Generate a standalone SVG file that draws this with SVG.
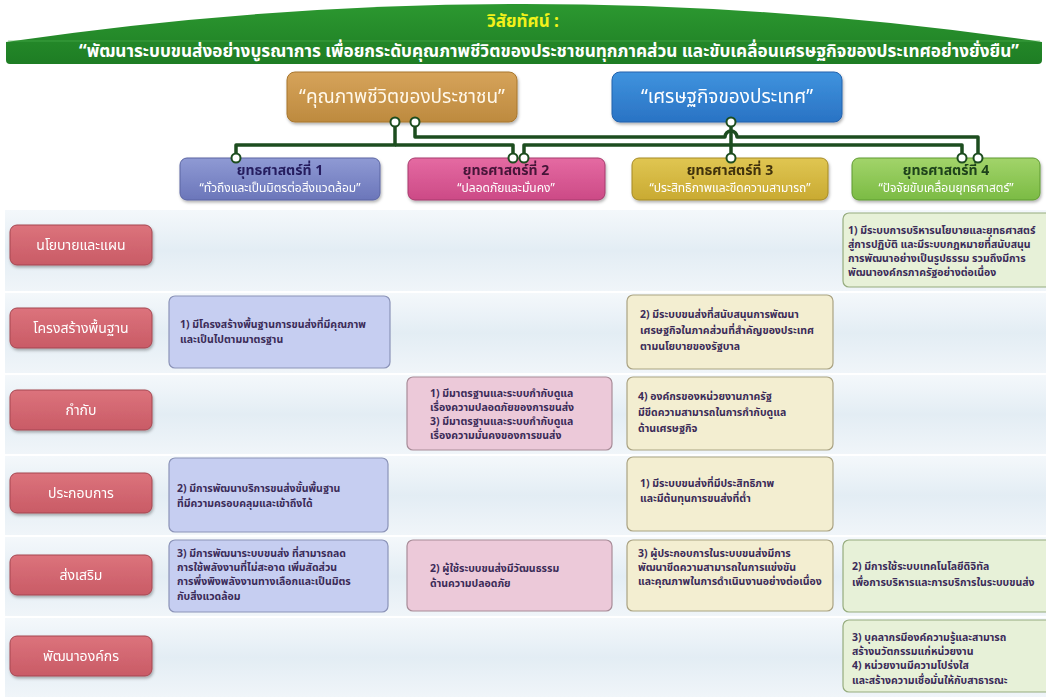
<svg xmlns="http://www.w3.org/2000/svg" width="1046" height="698" viewBox="0 0 1046 698">
<defs>
<linearGradient id="gHead" x1="0" y1="0" x2="0" y2="1"><stop offset="0" stop-color="#2c9830"/><stop offset="1" stop-color="#1e7d24"/></linearGradient>
<linearGradient id="gRow" x1="0" y1="0" x2="0" y2="1"><stop offset="0" stop-color="#f4f8fb"/><stop offset="0.5" stop-color="#e3edf4"/><stop offset="1" stop-color="#f0f5f9"/></linearGradient>
<linearGradient id="gGold" x1="0" y1="0" x2="0" y2="1"><stop offset="0" stop-color="#d6a35a"/><stop offset="1" stop-color="#bd8a3f"/></linearGradient>
<linearGradient id="gBlue" x1="0" y1="0" x2="0" y2="1"><stop offset="0" stop-color="#3f93de"/><stop offset="1" stop-color="#2a73c4"/></linearGradient>
<linearGradient id="gS1" x1="0" y1="0" x2="0" y2="1"><stop offset="0" stop-color="#8f9ad4"/><stop offset="1" stop-color="#6b76ba"/></linearGradient>
<linearGradient id="gS2" x1="0" y1="0" x2="0" y2="1"><stop offset="0" stop-color="#e56aa2"/><stop offset="1" stop-color="#cc4a86"/></linearGradient>
<linearGradient id="gS3" x1="0" y1="0" x2="0" y2="1"><stop offset="0" stop-color="#e0c652"/><stop offset="1" stop-color="#c9aa32"/></linearGradient>
<linearGradient id="gS4" x1="0" y1="0" x2="0" y2="1"><stop offset="0" stop-color="#a2d46a"/><stop offset="1" stop-color="#7bbb44"/></linearGradient>
<linearGradient id="gLab" x1="0" y1="0" x2="0" y2="1"><stop offset="0" stop-color="#dc737c"/><stop offset="1" stop-color="#c95b66"/></linearGradient>
<filter id="sh" x="-10%" y="-10%" width="120%" height="130%"><feDropShadow dx="1" dy="2" stdDeviation="1.5" flood-color="#000" flood-opacity="0.3"/></filter>
</defs>
<style>
text{font-family:"Noto Sans Thai","Noto Sans","Liberation Sans",sans-serif;}
.cell{stroke-width:1.2;}
.c1{fill:#c6cef1;stroke:#8b93b8;}
.c2{fill:#ecc9d9;stroke:#a88c98;}
.c3{fill:#f3eed1;stroke:#aaa382;}
.c4{fill:#e7f1d8;stroke:#96ac7e;}
.ct{font-size:10.5px;font-weight:bold;fill:#3b2b58;}
.lab{fill:url(#gLab);stroke:#a54650;stroke-width:1;}
.lt{font-size:14px;fill:#ffffff;text-anchor:middle;}
.st{font-size:14px;font-weight:bold;text-anchor:middle;}
.ss{font-size:12px;fill:#ffffff;text-anchor:middle;}
.conn{fill:none;stroke:#1d4d1f;stroke-width:3.5;stroke-linejoin:round;}
.dot{fill:#ffffff;stroke:#1d4d1f;stroke-width:2;}
.rowbg{fill:url(#gRow);}
</style>

<g id="header">
<path d="M6,42 Q523,-34 1042,42 L1042,60 Q1042,64 1038,64 L10,64 Q6,64 6,60 Z" fill="url(#gHead)"/>
<path d="M8,41 L1040,41" stroke="#4fb050" stroke-width="1" opacity="0.6"/>
<text x="523" y="27" font-size="17" font-weight="bold" fill="#f2f21a" text-anchor="middle">วิสัยทัศน์ :</text>
<text x="549" y="57" font-size="17" font-weight="bold" fill="#ffffff" text-anchor="middle" textLength="940" lengthAdjust="spacingAndGlyphs">“พัฒนาระบบขนส่งอย่างบูรณาการ เพื่อยกระดับคุณภาพชีวิตของประชาชนทุกภาคส่วน และขับเคลื่อนเศรษฐกิจของประเทศอย่างยั่งยืน”</text>
</g>

<g id="rows">
<rect class="rowbg" x="5" y="210" width="1041" height="81"/>
<rect class="rowbg" x="5" y="293" width="1041" height="80"/>
<rect class="rowbg" x="5" y="375" width="1041" height="79"/>
<rect class="rowbg" x="5" y="456" width="1041" height="79"/>
<rect class="rowbg" x="5" y="537" width="1041" height="79"/>
<rect class="rowbg" x="5" y="618" width="1041" height="79"/>
</g>

<g id="connectors">
<path class="conn" d="M395,123 V145 H236 V158"/>
<path class="conn" d="M395,145 H513 V158"/>
<path class="conn" d="M731,123 V158"/>
<path class="conn" d="M731,145 H524 V158"/>
<path class="conn" d="M731,145 H962 V158"/>
<path class="conn" d="M415,123 V137 H725 A6,6 0 0 1 737,137 H978 V158"/>
</g>

<g id="node-quality" filter="url(#sh)">
<rect x="287" y="72" width="230" height="50" rx="8" fill="url(#gGold)" stroke="#a8772f"/>
<text x="402" y="103" font-size="19" fill="#fff8ea" text-anchor="middle">“คุณภาพชีวิตของประชาชน”</text>
</g>
<g id="node-economy" filter="url(#sh)">
<rect x="612" y="72" width="230" height="50" rx="8" fill="url(#gBlue)" stroke="#2262ad"/>
<text x="727" y="103" font-size="19" fill="#ffffff" text-anchor="middle">“เศรษฐกิจของประเทศ”</text>
</g>

<g id="strategy-1" filter="url(#sh)">
<rect x="180" y="158" width="200" height="42" rx="7" fill="url(#gS1)" stroke="#5a64a2"/>
<text class="st" x="280" y="175" fill="#251e5e">ยุทธศาสตร์ที่ 1</text>
<text class="ss" x="280" y="192">“ทั่วถึงและเป็นมิตรต่อสิ่งแวดล้อม”</text>
</g>
<g id="strategy-2" filter="url(#sh)">
<rect x="408" y="158" width="197" height="42" rx="7" fill="url(#gS2)" stroke="#a63a6c"/>
<text class="st" x="506" y="175" fill="#451438">ยุทธศาสตร์ที่ 2</text>
<text class="ss" x="506" y="192">“ปลอดภัยและมั่นคง”</text>
</g>
<g id="strategy-3" filter="url(#sh)">
<rect x="632" y="158" width="196" height="42" rx="7" fill="url(#gS3)" stroke="#a58a24"/>
<text class="st" x="730" y="175" fill="#40310c">ยุทธศาสตร์ที่ 3</text>
<text class="ss" x="730" y="192">“ประสิทธิภาพและขีดความสามารถ”</text>
</g>
<g id="strategy-4" filter="url(#sh)">
<rect x="852" y="158" width="188" height="42" rx="7" fill="url(#gS4)" stroke="#5f9a30"/>
<text class="st" x="946" y="175" fill="#1f421a">ยุทธศาสตร์ที่ 4</text>
<text class="ss" x="946" y="192">“ปัจจัยขับเคลื่อนยุทธศาสตร์”</text>
</g>

<g id="dots">
<circle class="dot" cx="395" cy="122" r="4.5"/>
<circle class="dot" cx="415" cy="122" r="4.5"/>
<circle class="dot" cx="731" cy="122" r="4.5"/>
<circle class="dot" cx="236" cy="158" r="4.5"/>
<circle class="dot" cx="513" cy="158" r="4.5"/>
<circle class="dot" cx="524" cy="158" r="4.5"/>
<circle class="dot" cx="731" cy="158" r="4.5"/>
<circle class="dot" cx="962" cy="158" r="4.5"/>
<circle class="dot" cx="978" cy="158" r="4.5"/>
</g>

<g id="label-policy" filter="url(#sh)"><rect class="lab" x="10" y="225" width="142" height="40" rx="7"/><text class="lt" x="81" y="250">นโยบายและแผน</text></g>
<g id="label-infra" filter="url(#sh)"><rect class="lab" x="10" y="308" width="142" height="40" rx="7"/><text class="lt" x="81" y="333">โครงสร้างพื้นฐาน</text></g>
<g id="label-regulate" filter="url(#sh)"><rect class="lab" x="10" y="390" width="142" height="40" rx="7"/><text class="lt" x="81" y="415">กำกับ</text></g>
<g id="label-operate" filter="url(#sh)"><rect class="lab" x="10" y="473" width="142" height="40" rx="7"/><text class="lt" x="81" y="498">ประกอบการ</text></g>
<g id="label-promote" filter="url(#sh)"><rect class="lab" x="10" y="555" width="142" height="40" rx="7"/><text class="lt" x="81" y="580">ส่งเสริม</text></g>
<g id="label-org" filter="url(#sh)"><rect class="lab" x="10" y="636" width="142" height="40" rx="7"/><text class="lt" x="81" y="661">พัฒนาองค์กร</text></g>

<g id="cell-r1-s4"><rect class="cell c4" x="843" y="213" width="210" height="74" rx="6"/>
<text class="ct" x="848" y="234">1)  มีระบบการบริหารนโยบายและยุทธศาสตร์</text>
<text class="ct" x="848" y="248">สู่การปฏิบัติ และมีระบบกฎหมายที่สนับสนุน</text>
<text class="ct" x="848" y="262">การพัฒนาอย่างเป็นรูปธรรม รวมถึงมีการ</text>
<text class="ct" x="848" y="276">พัฒนาองค์กรภาครัฐอย่างต่อเนื่อง</text></g>

<g id="cell-r2-s1"><rect class="cell c1" x="169" y="296" width="221" height="72" rx="6"/>
<text class="ct" x="180" y="328">1) มีโครงสร้างพื้นฐานการขนส่งที่มีคุณภาพ</text>
<text class="ct" x="180" y="343">และเป็นไปตามมาตรฐาน</text></g>

<g id="cell-r2-s3"><rect class="cell c3" x="627" y="295" width="206" height="74" rx="6"/>
<text class="ct" x="640" y="318">2)  มีระบบขนส่งที่สนับสนุนการพัฒนา</text>
<text class="ct" x="640" y="334">เศรษฐกิจในภาคส่วนที่สำคัญของประเทศ</text>
<text class="ct" x="640" y="350">ตามนโยบายของรัฐบาล</text></g>

<g id="cell-r3-s2"><rect class="cell c2" x="407" y="377" width="205" height="73" rx="6"/>
<text class="ct" x="430" y="397">1)  มีมาตรฐานและระบบกำกับดูแล</text>
<text class="ct" x="430" y="411">เรื่องความปลอดภัยของการขนส่ง</text>
<text class="ct" x="430" y="425">3)  มีมาตรฐานและระบบกำกับดูแล</text>
<text class="ct" x="430" y="439">เรื่องความมั่นคงของการขนส่ง</text></g>

<g id="cell-r3-s3"><rect class="cell c3" x="627" y="377" width="206" height="73" rx="6"/>
<text class="ct" x="638" y="400">4)  องค์กรของหน่วยงานภาครัฐ</text>
<text class="ct" x="638" y="416">มีขีดความสามารถในการกำกับดูแล</text>
<text class="ct" x="638" y="432">ด้านเศรษฐกิจ</text></g>

<g id="cell-r4-s1"><rect class="cell c1" x="169" y="458" width="219" height="74" rx="6"/>
<text class="ct" x="177" y="492">2)  มีการพัฒนาบริการขนส่งขั้นพื้นฐาน</text>
<text class="ct" x="177" y="507">ที่มีความครอบคลุมและเข้าถึงได้</text></g>

<g id="cell-r4-s3"><rect class="cell c3" x="627" y="457" width="206" height="74" rx="6"/>
<text class="ct" x="640" y="487">1)  มีระบบขนส่งที่มีประสิทธิภาพ</text>
<text class="ct" x="640" y="502">และมีต้นทุนการขนส่งที่ต่ำ</text></g>

<g id="cell-r5-s1"><rect class="cell c1" x="169" y="540" width="219" height="72" rx="6"/>
<text class="ct" x="177" y="557">3)  มีการพัฒนาระบบขนส่ง  ที่สามารถลด</text>
<text class="ct" x="177" y="571">การใช้พลังงานที่ไม่สะอาด  เพิ่มสัดส่วน</text>
<text class="ct" x="177" y="585">การพึ่งพิงพลังงานทางเลือกและเป็นมิตร</text>
<text class="ct" x="177" y="600">กับสิ่งแวดล้อม</text></g>

<g id="cell-r5-s2"><rect class="cell c2" x="407" y="540" width="205" height="71" rx="6"/>
<text class="ct" x="430" y="572">2)  ผู้ใช้ระบบขนส่งมีวัฒนธรรม</text>
<text class="ct" x="430" y="587">ด้านความปลอดภัย</text></g>

<g id="cell-r5-s3"><rect class="cell c3" x="627" y="540" width="206" height="71" rx="6"/>
<text class="ct" x="638" y="557">3)  ผู้ประกอบการในระบบขนส่งมีการ</text>
<text class="ct" x="638" y="571">พัฒนาขีดความสามารถในการแข่งขัน</text>
<text class="ct" x="638" y="585">และคุณภาพในการดำเนินงานอย่างต่อเนื่อง</text></g>

<g id="cell-r5-s4"><rect class="cell c4" x="843" y="540" width="210" height="72" rx="6"/>
<text class="ct" x="852" y="570">2)  มีการใช้ระบบเทคโนโลยีดิจิทัล</text>
<text class="ct" x="852" y="586">เพื่อการบริหารและการบริการในระบบขนส่ง</text></g>

<g id="cell-r6-s4"><rect class="cell c4" x="843" y="620" width="210" height="72" rx="6"/>
<text class="ct" x="852" y="641">3)  บุคลากรมีองค์ความรู้และสามารถ</text>
<text class="ct" x="852" y="655">สร้างนวัตกรรมแก่หน่วยงาน</text>
<text class="ct" x="852" y="669">4)  หน่วยงานมีความโปร่งใส</text>
<text class="ct" x="852" y="684">และสร้างความเชื่อมั่นให้กับสาธารณะ</text></g>
</svg>
